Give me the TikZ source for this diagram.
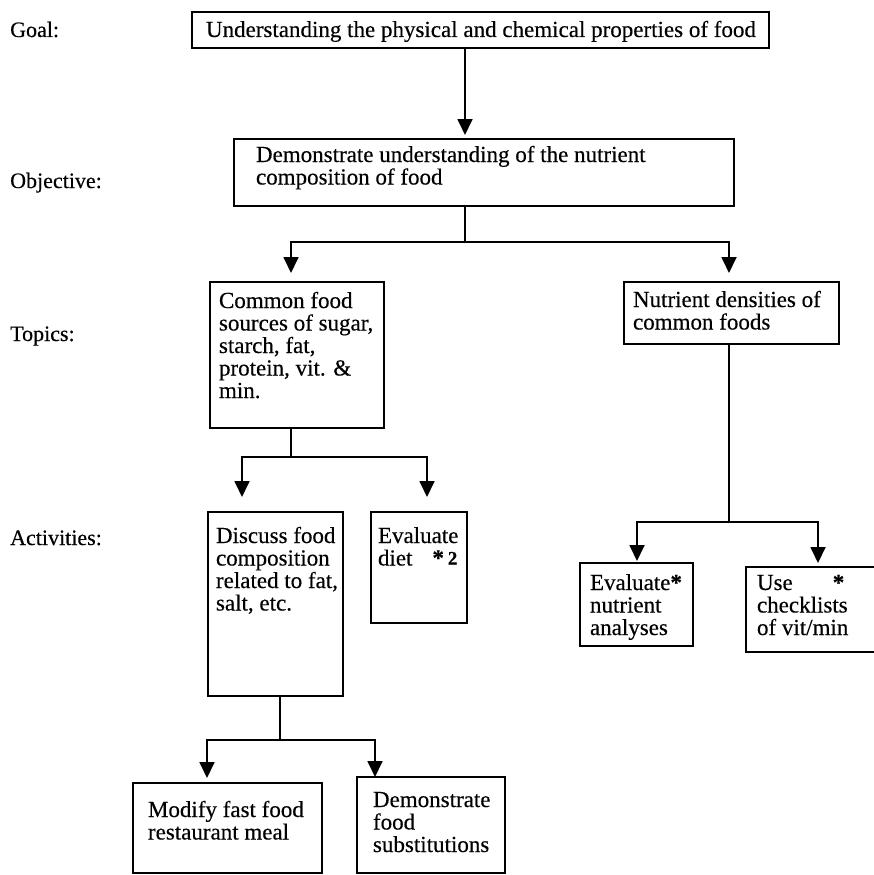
\documentclass[tikz,border=0pt]{standalone}
\usepackage{fontspec}
\setmainfont{Liberation Serif}[FakeBold=0.35]
\usetikzlibrary{arrows.meta}

% #1 width, #2 height, #3 left padding, #4 depth of first baseline, #5 text
\newcommand\boxtxt[5]{\parbox[c][#2][t]{#1}{\fontsize{23pt}{22.5pt}\selectfont
  \leftskip=#3\relax\rightskip=0pt plus 1fil\relax\rule{0pt}{#4}#5}}

\tikzset{
  box/.style={draw, line width=1.7pt, inner sep=0pt, outer sep=0pt, anchor=north west},
  lab/.style={anchor=base west, inner sep=0pt, font=\fontsize{22pt}{24pt}\selectfont},
  link/.style={line width=1.8pt},
  arr/.style={link, -{Triangle[width=15pt,length=16pt]}}
}

\begin{document}
\begin{tikzpicture}[x=1pt, y=-1pt]
\clip (0,0) rectangle (874,875);

% level labels
\node[lab] (lgoal) at (10,37) {Goal:};
\node[lab] (lobj)  at (10,188) {Objective:};
\node[lab] (ltop)  at (10,341) {Topics:};
\node[lab] (lact)  at (10,545) {Activities:};

% boxes
\node[box] (goal) at (192,12)
  {\boxtxt{577pt}{36pt}{14pt}{25pt}{Understanding the physical and chemical properties of food}};
\node[box] (obj) at (234,139)
  {\boxtxt{500pt}{67pt}{22pt}{23pt}{Demonstrate understanding of the nutrient\\composition of food}};
\node[box] (top1) at (210,282)
  {\boxtxt{174pt}{146pt}{9pt}{26pt}{Common food\\sources of sugar,\\starch, fat,\\protein, vit. \&\\min.}};
\node[box] (top2) at (624,282)
  {\boxtxt{215pt}{62pt}{9pt}{25pt}{Nutrient densities of\\common foods}};
\node[box] (disc) at (208,512)
  {\boxtxt{135pt}{184pt}{8pt}{31pt}{Discuss food\\composition\\related to fat,\\salt, etc.}};
\node[box] (diet) at (371,512)
  {\boxtxt{96pt}{111pt}{7pt}{31pt}{Evaluate\\diet\hspace{20pt}\textbf{*}\,\raisebox{1pt}{\fontsize{19pt}{20pt}\selectfont\textbf{2}}}};
\node[box] (evn) at (580,563)
  {\boxtxt{113pt}{83pt}{10pt}{27pt}{Evaluate\textbf{*}\\nutrient\\analyses}};
\node[box] (use) at (746,567)
  {\boxtxt{140pt}{85pt}{11pt}{23pt}{Use\hspace{40pt}\textbf{*}\\checklists\\of vit/min}};
\node[box] (mod) at (133,783)
  {\boxtxt{189pt}{90pt}{15pt}{34pt}{Modify fast food\\restaurant meal}};
\node[box] (demo) at (357,777)
  {\boxtxt{148pt}{96pt}{16pt}{30pt}{Demonstrate\\food\\substitutions}};

% branch points
\coordinate (j1) at (465,242);
\coordinate (j2) at (291,457);
\coordinate (j3) at (729,522);
\coordinate (j4) at (280,740);

% connectors
\draw[arr, shorten >=4pt] ([xshift=273pt]goal.south west) -- ([xshift=231pt]obj.north west);

\draw[link] ([xshift=231pt]obj.south west) -- (j1);
\draw[arr, shorten >=9pt] (j1) -| ([xshift=81pt]top1.north west);
\draw[arr, shorten >=9pt] (j1) -| ([xshift=105pt]top2.north west);

\draw[link] ([xshift=81pt]top1.south west) -- (j2);
\draw[arr, shorten >=15pt] (j2) -| ([xshift=34pt]disc.north west);
\draw[arr, shorten >=15pt] (j2) -| ([xshift=56pt]diet.north west);

\draw[link] ([xshift=105pt]top2.south west) -- (j3);
\draw[arr, shorten >=2pt] (j3) -| ([xshift=57pt]evn.north west);
\draw[arr, shorten >=4pt] (j3) -| ([xshift=72pt]use.north west);

\draw[link] ([xshift=72pt]disc.south west) -- (j4);
\draw[arr, shorten >=5pt] (j4) -| ([xshift=74pt]mod.north west);
\draw[arr] (j4) -| ([xshift=18pt]demo.north west);
\end{tikzpicture}
\end{document}
